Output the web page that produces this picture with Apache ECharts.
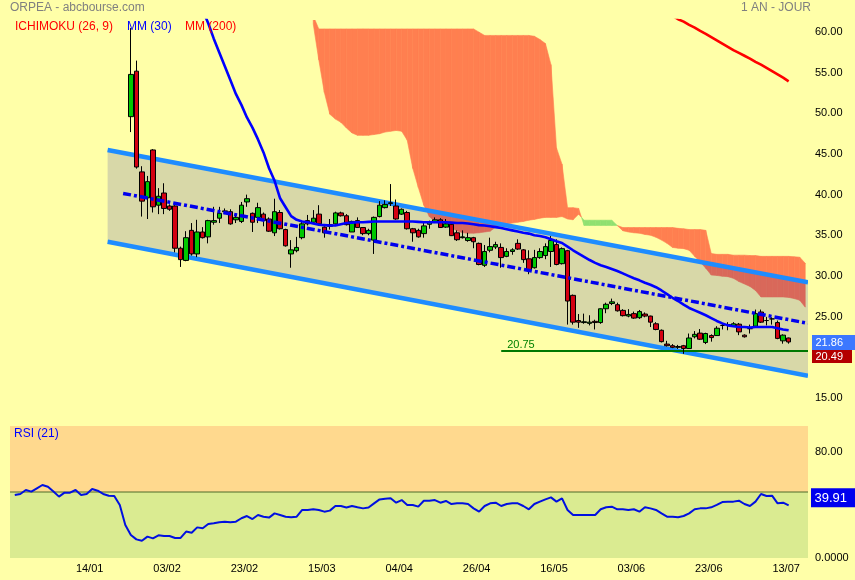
<!DOCTYPE html>
<html><head><meta charset="utf-8">
<script src="https://cdn.jsdelivr.net/npm/echarts@6/dist/echarts.min.js"></script>
<style>html,body{margin:0;padding:0;background:#FFFFA8}#c{width:855px;height:580px}</style>
</head><body><div id="c"></div>
<script>
// ---------- DATA ----------
const dates = ['27/12','28/12','29/12','30/12','31/12',
'03/01','04/01','05/01','06/01','07/01','10/01','11/01','12/01','13/01','14/01','17/01','18/01','19/01','20/01','21/01','24/01','25/01','26/01','27/01','28/01','31/01',
'01/02','02/02','03/02','04/02','07/02','08/02','09/02','10/02','11/02','14/02','15/02','16/02','17/02','18/02','21/02','22/02','23/02','24/02','25/02','28/02',
'01/03','02/03','03/03','04/03','07/03','08/03','09/03','10/03','11/03','14/03','15/03','16/03','17/03','18/03','21/03','22/03','23/03','24/03','25/03','28/03','29/03','30/03','31/03',
'01/04','04/04','05/04','06/04','07/04','08/04','11/04','12/04','13/04','14/04','19/04','20/04','21/04','22/04','25/04','26/04','27/04','28/04','29/04',
'02/05','03/05','04/05','05/05','06/05','09/05','10/05','11/05','12/05','13/05','16/05','17/05','18/05','19/05','20/05','23/05','24/05','25/05','26/05','27/05','30/05','31/05',
'01/06','02/06','03/06','06/06','07/06','08/06','09/06','10/06','13/06','14/06','15/06','16/06','17/06','20/06','21/06','22/06','23/06','24/06','27/06','28/06','29/06','30/06',
'01/07','04/07','05/07','06/07','07/07','08/07','11/07','12/07','13/07'];
const futureDates = ['14/07','15/07','18/07'];
const tickDates = ['14/01','03/02','23/02','15/03','04/04','26/04','16/05','03/06','23/06','13/07'];
const priceTicks = [15,20,25,30,35,40,45,50,55,60];
const rsiTicks = [0,80];

// candles [open, close, low, high], first visible candle date:
const firstCandleDate = '25/01';
const candles = [
[49.6,54.8,47.7,60.5],[55.2,43.4,43.2,56.5],[42.8,39.2,37.3,43.5],[39.6,41.6,37.0,42.3],[45.5,38.5,37.8,45.6],
[38.7,39.8,37.6,40.8],[40.2,38.3,37.6,41.4],[38.6,38.2,38.0,38.8],[38.6,33.4,32.9,38.7],[33.4,32.0,31.1,33.6],
[31.9,34.7,31.8,35.5],[35.6,32.7,32.5,36.5],[32.7,35.4,32.3,36.9],[35.4,34.7,34.6,36.0],[34.8,36.8,34.0,36.9],
[36.6,36.8,36.3,38.5],[37.1,37.7,36.5,38.5],[37.9,38.0,37.6,38.3],[37.9,36.4,36.3,38.2],[36.9,37.2,36.5,37.5],
[36.7,38.7,36.5,39.1],[39.1,39.5,38.5,40.0],[37.7,36.6,35.4,37.8],[37.2,38.4,36.5,39.0],[37.6,36.8,36.1,37.8],
[37.0,35.5,35.4,37.2],[35.3,37.9,34.9,39.5],[37.8,35.8,35.7,38.1],[35.7,33.7,33.6,35.8],[32.7,33.2,31.0,34.4],
[33.1,33.5,32.9,34.8],[34.7,36.4,34.5,36.8],[36.8,36.4,36.2,37.5],[36.6,37.1,36.4,38.1],[37.6,36.4,36.3,38.7],
[36.0,35.3,34.7,36.1],[36.3,36.1,35.7,37.0],[36.4,37.75,36.3,37.9],[37.75,37.4,37.3,37.9],[37.4,36.3,36.2,37.6],
[35.4,36.7,35.4,36.8],[36.8,35.95,35.9,37.2],[35.95,35.2,35.0,36.0],[35.2,35.6,35.0,35.8],[34.4,37.2,32.7,37.3],
[37.3,38.7,37.2,39.2],[38.4,38.8,38.3,39.3],[38.9,39.0,38.6,41.3],[38.6,37.0,36.9,39.4],[37.6,38.2,37.5,38.3],
[37.8,35.8,35.7,38.0],[35.8,35.3,34.2,35.9],[35.6,34.8,34.7,35.8],[35.2,36.15,34.7,36.5],[36.35,36.6,35.8,36.8],
[36.6,36.9,36.5,37.2],[36.9,35.95,35.9,37.1],[36.0,36.4,35.9,37.0],[36.35,34.95,34.9,36.4],[35.3,34.45,34.3,35.6],
[34.7,34.8,34.6,35.6],[34.35,34.7,34.2,35.3],[34.7,34.2,33.4,34.8],[34.0,31.4,31.3,34.1],[31.3,33.0,31.1,33.8],
[33.15,33.6,32.9,34.7],[33.55,33.85,33.3,34.2],[33.5,32.25,31.0,34.0],[32.4,33.0,32.3,33.4],[33.0,33.2,32.6,33.4],
[34.0,33.3,33.2,34.5],[33.2,32.0,31.6,33.3],[32.1,30.7,30.2,33.15],[31.0,32.25,30.9,33.2],[32.25,33.0,32.1,33.4],
[32.5,33.6,32.05,34.0],[33.0,34.35,31.1,34.9],[33.85,31.4,31.3,34.5],[31.5,33.35,31.4,33.5],[33.1,26.9,24.0,33.2],
[27.6,24.3,24.0,27.7],[24.5,24.3,23.6,25.3],[24.25,24.35,24.1,25.35],[24.15,24.3,23.9,25.15],[24.4,24.25,23.4,24.6],
[24.25,25.95,24.1,26.0],[25.95,26.5,25.4,26.7],[26.6,26.8,26.4,27.2],[26.45,25.7,25.6,26.7],[25.75,25.1,25.0,25.9],
[25.05,25.25,24.9,25.9],[25.35,24.8,24.7,25.6],[24.85,25.6,24.7,25.8],[25.3,25.05,24.9,25.5],[25.05,24.3,23.7,25.1],
[24.1,23.4,23.3,24.3],[23.3,21.9,21.8,23.4],[21.6,21.4,21.3,22.0],[21.4,21.2,21.1,21.6],[21.2,21.3,21.0,21.5],
[21.4,21.05,20.4,21.5],[21.05,22.35,21.0,22.9],[22.5,22.8,22.3,23.2],[22.95,22.2,22.1,23.45],[21.8,22.9,21.6,23.0],
[22.65,22.4,21.9,22.8],[22.65,23.55,22.6,23.8],[23.9,23.9,23.4,24.2],[24.0,24.0,23.3,24.3],[23.8,24.1,23.7,24.3],
[24.05,23.1,22.7,24.2],[22.7,22.5,22.4,22.8],[23.5,23.5,22.9,24.0],[23.8,25.35,23.7,25.85],[25.55,24.3,24.2,25.85],
[24.5,24.5,23.9,24.95],[24.7,24.7,24.0,24.9],[24.25,22.3,22.2,24.5],[22.0,22.7,21.65,22.8],[22.35,21.86,21.65,22.4]
];

const mm30Start = '04/02';
const mm30 = [71.3,69.6,67.9,66.2,64.5,62.7,61.1,59.2,57.5,55.8,
54.1,52.4,51.05,49.5,48.25,46.8,45.2,43.25,41.7,39.55,
38.45,37.35,36.9,36.7,36.6,36.45,36.3,36.25,36.2,36.2,
36.35,36.5,36.55,36.6,36.6,36.65,36.7,36.7,36.7,36.7,
36.7,36.7,36.7,36.7,36.65,36.6,36.6,36.6,36.6,36.6,
36.55,36.5,36.5,36.45,36.35,36.25,36.2,36.1,36.0,35.9,
35.75,35.6,35.45,35.3,35.2,35.0,34.9,34.75,34.5,34.25,
34.05,33.6,33.15,32.75,32.35,31.95,31.6,31.3,31.1,30.85,
30.6,30.3,30.0,29.7,29.45,29.15,28.9,28.6,28.2,27.75,
27.3,26.9,26.45,26.05,25.75,25.45,25.15,24.8,24.45,24.15,
23.9,23.8,23.7,23.7,23.65,23.7,23.7,23.7,23.7,23.55,
23.4,23.3];

const mm200Start = '09/06';
const mm200 = [63.2,62.8,62.4,62.0,61.6,61.3,60.9,60.55,60.15,59.8,59.4,59.0,58.6,58.2,57.8,57.45,57.1,56.75,56.35,56.0,55.6,55.2,54.8,54.4,53.95];

// Ichimoku cloud (Senkou spans A and B, already shifted)
const cloudStart = '11/03';
const spanA = [61.0,56.6,52.6,49.9,49.3,48.9,48.2,47.6,47.3,47.3,
47.3,47.4,47.5,47.7,47.8,47.9,47.8,46.7,43.25,40.9,
38.7,37.3,36.7,36.35,36.1,35.9,35.55,35.3,35.25,35.25,
35.3,35.4,35.5,36.0,36.2,36.35,36.5,36.6,36.7,36.85,
36.95,37.1,37.2,37.2,37.2,37.3,37.0,36.9,37.6,36.85,
36.85,36.85,36.85,36.85,36.85,36.2,35.55,35.4,35.3,35.25,
35.1,35.0,34.75,34.4,34.0,33.5,33.4,33.35,33.15,32.4,
31.7,30.95,30.1,30.05,29.95,29.9,29.7,29.3,29.0,28.7,
28.2,27.4,27.4,27.4,27.4,27.4,27.35,27.2,27.0,26.15];
const spanB = [62.0,
60.4,60.4,60.4,60.4,60.4,60.4,60.4,60.4,60.4,60.4,
60.4,60.4,60.4,60.4,60.4,60.4,60.4,60.4,60.4,60.4,
60.4,60.4,60.4,60.4,60.4,60.4,60.4,60.4,60.4,
60.0,
59.6,59.6,59.6,59.6,59.6,59.6,59.6,59.6,59.6,
59.5,59.1,58.6,56.0,45.75,43.75,38.4,38.4,38.3,
36.2,36.2,36.2,36.2,36.2,36.2,36.2,
35.95,35.95,35.95,35.95,35.95,35.95,35.95,35.95,35.95,35.95,
35.85,35.8,35.7,35.7,35.7,35.6,
32.75,32.65,32.65,32.65,32.55,32.55,32.55,32.5,32.5,
32.4,32.4,32.4,32.4,32.4,32.4,32.35,32.3,31.55];

// Trend channel (category positions and prices at both ends)
const channelSpan = [16.8, 143.5];
const channelUpper = [45.5, 29.2];
const channelLower = [34.2, 17.7];
const channelMidSpan = [19.6, 143.5];
const channelMid = [40.15, 24.16];
const supportLevel = 20.75;
const supportStart = '02/05';

const rsi = [47.7,48.5,51.5,50.3,52.8,55.3,54.0,50.3,46.5,49.5,
49.5,51.5,47.7,48.5,52.3,51.0,48.5,47.2,47.0,40.2,
25.0,17.4,14.1,13.1,16.2,14.9,17.2,16.7,16.7,15.2,
15.2,20.0,19.2,23.2,22.5,25.8,26.3,27.0,27.5,27.0,
27.5,30.1,31.8,29.5,32.6,31.3,30.6,33.8,32.6,31.3,
30.8,31.3,36.4,36.4,36.9,36.4,35.1,35.9,39.4,39.4,
38.2,39.4,38.4,37.6,38.2,41.4,44.4,44.9,45.2,41.9,
43.9,40.2,40.2,38.9,43.4,43.4,43.9,41.9,43.2,40.9,
41.4,41.4,40.9,37.6,35.1,39.4,41.4,41.9,39.4,40.9,
41.4,41.4,39.4,36.9,40.9,42.7,44.4,45.9,42.7,45.2,
36.4,32.6,32.6,32.6,32.6,32.6,36.9,38.4,38.9,36.9,
36.9,36.4,36.9,35.1,38.4,37.6,36.4,33.8,31.3,31.3,
30.8,31.8,33.8,36.9,37.6,37.6,38.4,40.2,42.4,42.7,
42.7,43.4,40.9,39.4,42.7,48.5,47.0,47.2,41.4,41.9,
39.91];
const rsiMid = 50;
const lastPrice = 21.86;
const secondTag = 20.49;
const rsiLast = 39.91;

// ---------- BUILD ----------
const categories = dates.concat(futureDates);
const idx = d => categories.indexOf(d);
const FONT = "'Liberation Sans', Arial, sans-serif";
const ORANGE = '#FF7F50', GREENC = '#90E070';
const ORANGE_IN = '#D9685A', GREEN_IN = '#80C060';
const CHANNEL_FILL = '#D8D8A8';

const c0 = idx(firstCandleDate);
const candleData = candles.map((r, k) => [c0 + k, r[0], r[1], r[2], r[3]]);
const m30 = idx(mm30Start), m200 = idx(mm200Start), cs0 = idx(cloudStart);
const mm30Data = mm30.map((v, k) => [m30 + k, v]);
const mm200Data = mm200.map((v, k) => [m200 + k, v]);
const cloudData = [];
for (let k = 0; k < spanA.length - 1; k++) cloudData.push([cs0 + k, spanA[k], spanB[k], spanA[k+1], spanB[k+1]]);

function helpers(api) {
  const o = api.coord([0, 0]);
  const band = api.coord([1, 0])[0] - o[0];
  return {X: i => o[0] + i * band, Y: v => api.coord([0, v])[1]};
}

// clip polygon against half-plane defined by line (p0,p1); keep side where sign*(y - yLine(x)) <= 0
function clipHalf(poly, p0, p1, sign) {
  const f = p => sign * (p[1] - (p0[1] + (p[0] - p0[0]) * (p1[1] - p0[1]) / (p1[0] - p0[0])));
  const out = [];
  for (let k = 0; k < poly.length; k++) {
    const a = poly[k], b = poly[(k + 1) % poly.length];
    const fa = f(a), fb = f(b);
    if (fa <= 0) out.push(a);
    if ((fa < 0 && fb > 0) || (fa > 0 && fb < 0)) {
      const t = fa / (fa - fb);
      out.push([a[0] + t * (b[0] - a[0]), a[1] + t * (b[1] - a[1])]);
    }
  }
  return out;
}

function renderCloud(params, api) {
  const {X, Y} = helpers(api);
  const L0 = [X(channelSpan[0]), Y(channelUpper[0])], L1 = [X(channelSpan[1]), Y(channelUpper[1])];
  const i = api.value(0);
  const a0 = api.value(1), b0 = api.value(2), a1 = api.value(3), b1 = api.value(4);
  const pA0 = api.coord([i, a0]), pB0 = api.coord([i, b0]);
  const pA1 = api.coord([i + 1, a1]), pB1 = api.coord([i + 1, b1]);
  const d0 = a0 - b0, d1 = a1 - b1;
  const pieces = [];
  if (d0 * d1 >= 0) {
    pieces.push([[pA0, pA1, pB1, pB0], (d0 + d1) > 0]);
  } else {
    const t = d0 / (d0 - d1);
    const pc = [pA0[0] + t * (pA1[0] - pA0[0]), pA0[1] + t * (pA1[1] - pA0[1])];
    pieces.push([[pA0, pc, pB0], d0 > 0]);
    pieces.push([[pc, pA1, pB1], d1 > 0]);
  }
  const children = [];
  pieces.forEach(([pts, green]) => {
    const above = clipHalf(pts, L0, L1, 1);
    const below = clipHalf(pts, L0, L1, -1);
    const c1 = green ? GREENC : ORANGE, c2 = green ? GREEN_IN : ORANGE_IN;
    if (above.length > 2) children.push({type: 'polygon', shape: {points: above}, style: {fill: c1, stroke: c1, lineWidth: 0.6}});
    if (below.length > 2) children.push({type: 'polygon', shape: {points: below}, style: {fill: c2, stroke: c2, lineWidth: 0.6}});
  });
  return {type: 'group', children: children};
}

function renderChannelFill(params, api) {
  const {X, Y} = helpers(api);
  const x0 = X(channelSpan[0]), x1 = X(channelSpan[1]);
  const pts = [[x0, Y(channelUpper[0])], [x1, Y(channelUpper[1])], [x1, Y(channelLower[1])], [x0, Y(channelLower[0])]];
  return {type: 'polygon', shape: {points: pts}, style: {fill: CHANNEL_FILL}};
}

function renderChannelLines(params, api) {
  const {X, Y} = helpers(api);
  const x0 = X(channelSpan[0]), x1 = X(channelSpan[1]);
  const sy = Y(supportLevel), sx0 = X(idx(supportStart));
  return {type: 'group', children: [
    {type: 'line', shape: {x1: x0, y1: Y(channelUpper[0]), x2: x1, y2: Y(channelUpper[1])}, style: {stroke: '#1E8CFF', lineWidth: 4.5}},
    {type: 'line', shape: {x1: x0, y1: Y(channelLower[0]), x2: x1, y2: Y(channelLower[1])}, style: {stroke: '#1E8CFF', lineWidth: 4.5}},
    {type: 'line', shape: {x1: sx0, y1: sy, x2: x1, y2: sy}, style: {stroke: '#007800', lineWidth: 2}},
    {type: 'text', x: sx0 + 6, y: sy - 1, style: {text: String(supportLevel), fill: '#008000', fontSize: 11, fontFamily: FONT, align: 'left', verticalAlign: 'bottom'}}
  ]};
}

function renderMid(params, api) {
  const {X, Y} = helpers(api);
  return {type: 'line', shape: {x1: X(channelMidSpan[0]), y1: Y(channelMid[0]), x2: X(channelMidSpan[1]), y2: Y(channelMid[1])},
    style: {stroke: '#0000EE', lineWidth: 3.5, lineDash: [8, 3, 3, 3]}};
}

function renderRsiBg(params, api) {
  const cs = params.coordSys;
  const y50 = api.coord([0, rsiMid])[1];
  return {type: 'group', children: [
    {type: 'rect', shape: {x: cs.x - 2, y: cs.y, width: cs.width + 2, height: y50 - cs.y}, style: {fill: '#FFD98E'}},
    {type: 'rect', shape: {x: cs.x - 2, y: y50, width: cs.width + 2, height: cs.y + cs.height - y50}, style: {fill: '#DAEB91'}},
    {type: 'line', shape: {x1: cs.x - 2, y1: y50, x2: cs.x + cs.width, y2: y50}, style: {stroke: '#4E6B2A', lineWidth: 1}}
  ]};
}

function tag(x, yTop, w, h, txt, bg, fs) {
  return [
    {type: 'rect', shape: {x: x, y: yTop, width: w, height: h}, style: {fill: bg}},
    {type: 'text', x: x + 3.5, y: yTop + h / 2 + 0.5, style: {text: txt, fill: '#fff', fontSize: fs, fontFamily: FONT, align: 'left', verticalAlign: 'middle'}}
  ];
}
function renderMainTags(params, api) {
  const cs = params.coordSys;
  const x = cs.x + cs.width + 4;
  const y1 = api.coord([0, lastPrice])[1];
  const top1 = y1 - 7;
  const y2 = api.coord([0, secondTag])[1];
  const top2 = Math.max(y2 - 6.5, top1 + 15);
  return {type: 'group', children: tag(x, top1, 43, 15, lastPrice.toFixed(2), '#3C78FF', 11)
    .concat(tag(x, top2, 40, 13, secondTag.toFixed(2), '#B40000', 11))};
}
function renderRsiTag(params, api) {
  const cs = params.coordSys;
  const x = cs.x + cs.width + 3;
  const y = api.coord([0, rsiLast])[1];
  return {type: 'group', children: tag(x, y - 17, 44, 19, rsiLast.toFixed(2), '#0000EE', 13)};
}

const chart = echarts.init(document.getElementById('c'), null, {renderer: 'canvas'});
const titleStyle = (c) => ({color: c, fontSize: 12, fontWeight: 'normal', fontFamily: FONT});
const one = (name, z, render, extra) => Object.assign({type: 'custom', name: name, xAxisIndex: 0, yAxisIndex: 0, z: z, clip: true, silent: true,
  encode: {x: 0, y: 1}, data: [[0, 30]], renderItem: render}, extra || {});
chart.setOption({
  animation: false,
  backgroundColor: '#FFFFA8',
  title: [
    {text: 'ORPEA - abcbourse.com', left: 10, top: 2, padding: 0, textStyle: titleStyle('#808080')},
    {text: '1 AN - JOUR', left: 741, top: 2, padding: 0, textStyle: titleStyle('#808080')},
    {text: 'ICHIMOKU (26, 9)', left: 15, top: 21, padding: 0, textStyle: titleStyle('#FF0000')},
    {text: 'MM (30)', left: 127, top: 21, padding: 0, textStyle: titleStyle('#0000FF')},
    {text: 'MM (200)', left: 185, top: 21, padding: 0, textStyle: titleStyle('#FF0000')},
    {text: 'RSI (21)', left: 14, top: 428, padding: 0, textStyle: titleStyle('#0000FF')}
  ],
  grid: [
    {left: 12, right: 47, top: 20, height: 398, outerBoundsMode: 'none'},
    {left: 12, right: 47, top: 426, height: 132, outerBoundsMode: 'none'}
  ],
  xAxis: [
    {type: 'category', gridIndex: 0, data: categories, boundaryGap: true, show: false},
    {type: 'category', gridIndex: 1, data: categories, boundaryGap: true,
     axisLine: {show: false}, axisTick: {show: false}, splitLine: {show: false},
     axisLabel: {interval: (i, v) => tickDates.includes(v), color: '#000', fontSize: 11, fontFamily: FONT, margin: 5, padding: [0, 5, 0, 0]}}
  ],
  yAxis: [
    {type: 'value', gridIndex: 0, position: 'right', min: 12.5, max: 61.5,
     axisLine: {show: false}, axisTick: {show: false}, splitLine: {show: false},
     axisLabel: {customValues: priceTicks, formatter: v => v.toFixed(2), color: '#000', fontSize: 11, fontFamily: FONT, margin: 7}},
    {type: 'value', gridIndex: 1, position: 'right', min: 0, max: 100,
     axisLine: {show: false}, axisTick: {show: false}, splitLine: {show: false},
     axisLabel: {customValues: rsiTicks, formatter: v => v === 0 ? '0.0000' : v.toFixed(2), color: '#000', fontSize: 11, fontFamily: FONT, margin: 7}}
  ],
  series: [
    one('channelFill', 1, renderChannelFill),
    {type: 'custom', name: 'cloud', xAxisIndex: 0, yAxisIndex: 0, z: 2, clip: true, silent: true,
     encode: {x: 0, y: 1}, data: cloudData, renderItem: renderCloud},
    one('channelLines', 3, renderChannelLines),
    {type: 'candlestick', name: 'ORPEA', xAxisIndex: 0, yAxisIndex: 0, z: 4, clip: true, silent: true,
     encode: {x: 0, y: [1, 2, 3, 4]}, data: candleData, barWidth: 5,
     itemStyle: {color: '#00C800', color0: '#D40012', borderColor: '#000', borderColor0: '#000', borderColorDoji: '#000', borderWidth: 1}},
    {type: 'line', name: 'MM30', xAxisIndex: 0, yAxisIndex: 0, z: 5, data: mm30Data, showSymbol: false, silent: true,
     lineStyle: {color: '#0000FF', width: 2.6}},
    {type: 'line', name: 'MM200', xAxisIndex: 0, yAxisIndex: 0, z: 5, data: mm200Data, showSymbol: false, silent: true,
     lineStyle: {color: '#FF0000', width: 2.6}},
    one('mid', 6, renderMid),
    one('tags', 7, renderMainTags, {clip: false}),
    {type: 'custom', name: 'rsiBg', xAxisIndex: 1, yAxisIndex: 1, z: 0, clip: false, silent: true,
     encode: {x: 0, y: 1}, data: [[0, 50]], renderItem: renderRsiBg},
    {type: 'line', name: 'RSI', xAxisIndex: 1, yAxisIndex: 1, z: 2, data: rsi, showSymbol: false, silent: true,
     lineStyle: {color: '#0010E0', width: 2}},
    {type: 'custom', name: 'rsiTag', xAxisIndex: 1, yAxisIndex: 1, z: 6, clip: false, silent: true,
     encode: {x: 0, y: 1}, data: [[0, 50]], renderItem: renderRsiTag}
  ]
});
</script></body></html>
